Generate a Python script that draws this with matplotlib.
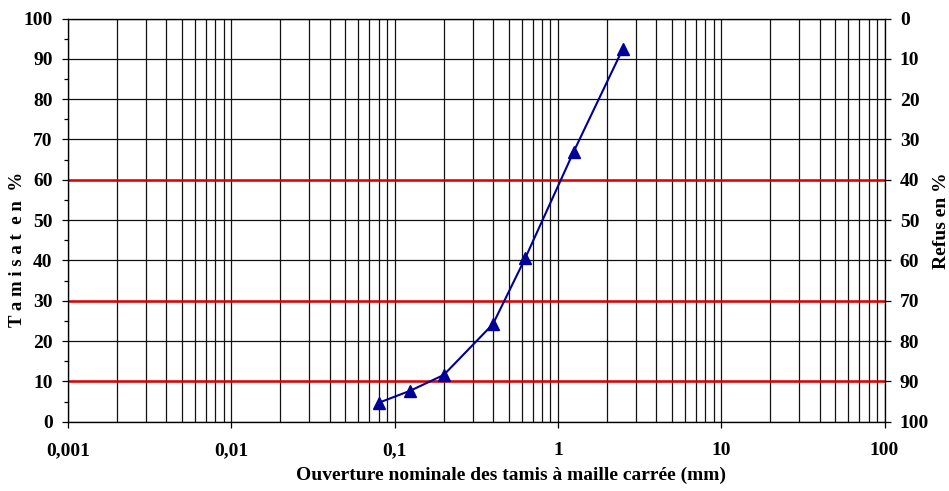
import numpy as np
import matplotlib.pyplot as plt
from matplotlib.ticker import FixedLocator, FixedFormatter, MultipleLocator, LogLocator, NullFormatter

# ouverture des tamis (mm) et tamisat cumulé (%)
tamis = [0.08, 0.125, 0.2, 0.4, 0.63, 1.25, 2.5]
tamisat = [4.7, 7.7, 11.6, 24.2, 40.5, 67.0, 92.5]

x_ticks = [0.001, 0.01, 0.1, 1, 10, 100]
x_labels = ['0,001', '0,01', '0,1', '1', '10', '100']
red_levels = [10, 30, 60]

plt.rcParams['font.family'] = ['Liberation Serif', 'DejaVu Serif']
plt.rcParams['font.weight'] = 'bold'

fig = plt.figure(figsize=(9.49, 4.91), dpi=100)
ax = fig.add_axes([68 / 949, 1 - 421.7 / 491, (884.5 - 68) / 949, (421.7 - 18.5) / 491])

ax.set_xscale('log')
ax.set_xlim(0.001, 100)
ax.set_ylim(0, 100)

# grille
ax.xaxis.set_major_locator(FixedLocator(x_ticks))
ax.xaxis.set_major_formatter(FixedFormatter(x_labels))
ax.xaxis.set_minor_locator(LogLocator(base=10, subs=np.arange(2, 10)))
ax.xaxis.set_minor_formatter(NullFormatter())
ax.yaxis.set_major_locator(MultipleLocator(10))
ax.yaxis.set_minor_locator(MultipleLocator(5))
ax.grid(True, axis='x', which='both', color='#111111', linewidth=0.9)
ax.grid(True, axis='y', which='major', color='#111111', linewidth=0.9)
for lvl in red_levels:
    ax.axhline(lvl, color='#e00000', linewidth=1.8, zorder=2)

ax.tick_params(axis='x', which='major', direction='out', length=4.5, width=0.9, pad=10, labelsize=14)
ax.tick_params(axis='x', which='minor', length=0)
ax.tick_params(axis='y', which='major', direction='out', length=4, width=0.9, pad=7, labelsize=14)
ax.tick_params(axis='y', which='minor', direction='out', length=3, width=0.9)
for s in ax.spines.values():
    s.set_linewidth(0.9)

ax.plot(tamis, tamisat, color='#000099', linewidth=1.5, marker='^', markersize=8, zorder=3)

# axe des refus
ax2 = ax.twinx()
ax2.set_ylim(100, 0)
ax2.yaxis.set_major_locator(MultipleLocator(10))
ax2.tick_params(axis='y', direction='out', length=4, width=0.9, pad=7, labelsize=14)

fig.text(511 / 949, 1 - 475 / 491, 'Ouverture nominale des tamis à maille carrée (mm)',
         ha='center', va='center', fontsize=14, fontweight='bold')
fig.text(18 / 949, 1 - 249 / 491, 'T a m i s a t  e n  %', rotation=90,
         ha='center', va='center', fontsize=13.5, fontweight='bold')
fig.text(941 / 949, 1 - 221 / 491, 'Refus en %', rotation=90,
         ha='center', va='center', fontsize=14, fontweight='bold')

fig.savefig('out.png', dpi=100)
